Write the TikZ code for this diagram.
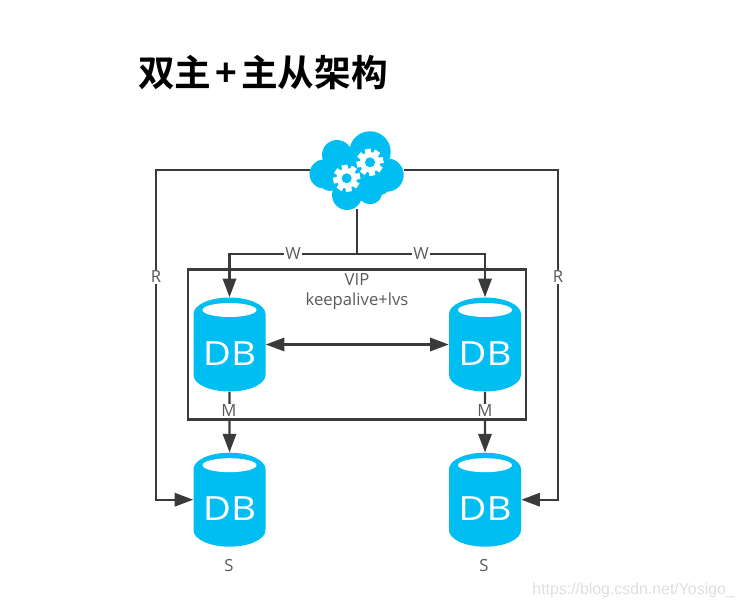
\documentclass[tikz,border=0pt]{standalone}
\usepackage{fontspec}
\setmainfont{Open Sans}
\newfontfamily\cjk{Noto Sans CJK SC}[BoldFont={Noto Sans CJK SC Bold}]
\newfontfamily\wmfont{Liberation Sans}
\usetikzlibrary{arrows.meta,shapes.geometric}
\definecolor{dbblue}{HTML}{00BEF2}
\definecolor{linegray}{HTML}{3A3A3A}
\definecolor{textgray}{HTML}{5A5A5A}
\newcommand{\dbtext}{\raisebox{-9.4pt}[0pt][0pt]{\scalebox{1.16}[1]{DB}}}
\tikzset{
    dbnode/.style={shape=cylinder, shape border rotate=90, aspect=0.62, fill=dbblue, draw=none, anchor=shape center,
        minimum width=54pt, minimum height=70.5pt, inner sep=0pt, text=white, font=\fontsize{25}{25}\selectfont},
    link/.style={draw=linegray, line width=1.8pt},
    arr/.style={link, -{Triangle[length=14pt,width=10pt]}},
    twoarr/.style={link, {Triangle[length=14pt,width=10pt]}-{Triangle[length=14pt,width=10pt]}},
    lab/.style={text=textgray, font=\fontsize{12.5}{14}\selectfont, inner sep=0.8pt},
    gearicon/.pic={
        \fill[white] (0,0) circle (10.2);
        \foreach \a in {0,45,...,315}
            \fill[white, rotate=\a+10] (-3,-13.5) rectangle (3,0);
        \fill[dbblue] (0,0) circle (5);
    }
}
\begin{document}
\begin{tikzpicture}[x=0.75pt, y=-0.75pt]
    \useasboundingbox (0,0) rectangle (745,609);
    % title
    \node[font=\cjk\bfseries\fontsize{27.5}{27.5}\selectfont, anchor=west, inner sep=0pt] (title) at (138,73) {双主\hspace{3pt}+\hspace{3pt}主从架构};
    % cloud
    \fill[dbblue] (370,152) circle (20.7);
    \fill[dbblue] (337,155) circle (15);
    \fill[dbblue] (324,174) circle (14.5);
    \fill[dbblue] (347,195) circle (15);
    \fill[dbblue] (370,192) circle (12.3);
    \fill[dbblue] (387,175) circle (16.7);
    \fill[dbblue] (353,173) circle (23);
    \fill[dbblue] (330,180) circle (11);
    \fill[dbblue] (380,185) circle (10);
    \pic at (346.7,178.3) {gearicon};
    \pic at (370,162.3) {gearicon};
    \node[minimum width=70.5pt, minimum height=58.5pt, inner sep=0pt] (cloudnode) at (357,170) {};
    % databases
    \node[dbnode] (m1) at (229.5,344.5) {\dbtext};
    \node[dbnode] (m2) at (485,344.5) {\dbtext};
    \node[dbnode] (s1) at (229.5,499.7) {\dbtext};
    \node[dbnode] (s2) at (485,499.7) {\dbtext};
    \foreach \d in {m1,m2,s1,s2}
        \fill[white] (\d.shape center) ++(0,-34.5) ellipse (27 and 7);
    % VIP box
    \node[draw=linegray, line width=1.6pt, minimum width=253.5pt, minimum height=112.5pt, inner sep=0pt] (vipbox) at (357,344.5) {};
    \node[lab] (viplab) at (357,280) {VIP};
    \node[lab] (keeplab) at (357,301) {keepalive+lvs};
    % bends
    \coordinate (junc) at (357,254);
    \coordinate (rleft) at (156,170);
    \coordinate (rright) at (558,170);
    % write links
    \draw[link] (cloudnode.south) -- (junc);
    \draw[arr] (junc) -| (m1.north);
    \draw[arr] (junc) -| (m2.north);
    \node[lab, fill=white] (w1) at (293,254) {W};
    \node[lab, fill=white] (w2) at (421,254) {W};
    % read links
    \draw[arr] (cloudnode.west) -- (rleft) |- (s1.shape center -| s1.west);
    \draw[arr] (cloudnode.east) -- (rright) |- (s2.shape center -| s2.east);
    \node[lab, fill=white] (r1) at (156,277) {R};
    \node[lab, fill=white] (r2) at (558,277) {R};
    % master links
    \draw[twoarr] (m1.shape center -| m1.east) -- (m2.shape center -| m2.west);
    \draw[arr] (m1.south) -- (s1.north);
    \draw[arr] (m2.south) -- (s2.north);
    \node[lab, fill=white] (m1lab) at (229,411) {M};
    \node[lab, fill=white] (m2lab) at (485,411) {M};
    \node[lab] (s1lab) at (229,566) {S};
    \node[lab] (s2lab) at (484,566) {S};
    % watermark
    \node[font=\wmfont\fontsize{11.9}{12}\selectfont, text=black!13, anchor=east, inner sep=0pt] (wmark) at (735,590) {https://blog.csdn.net/Yosigo\_};
\end{tikzpicture}
\end{document}
